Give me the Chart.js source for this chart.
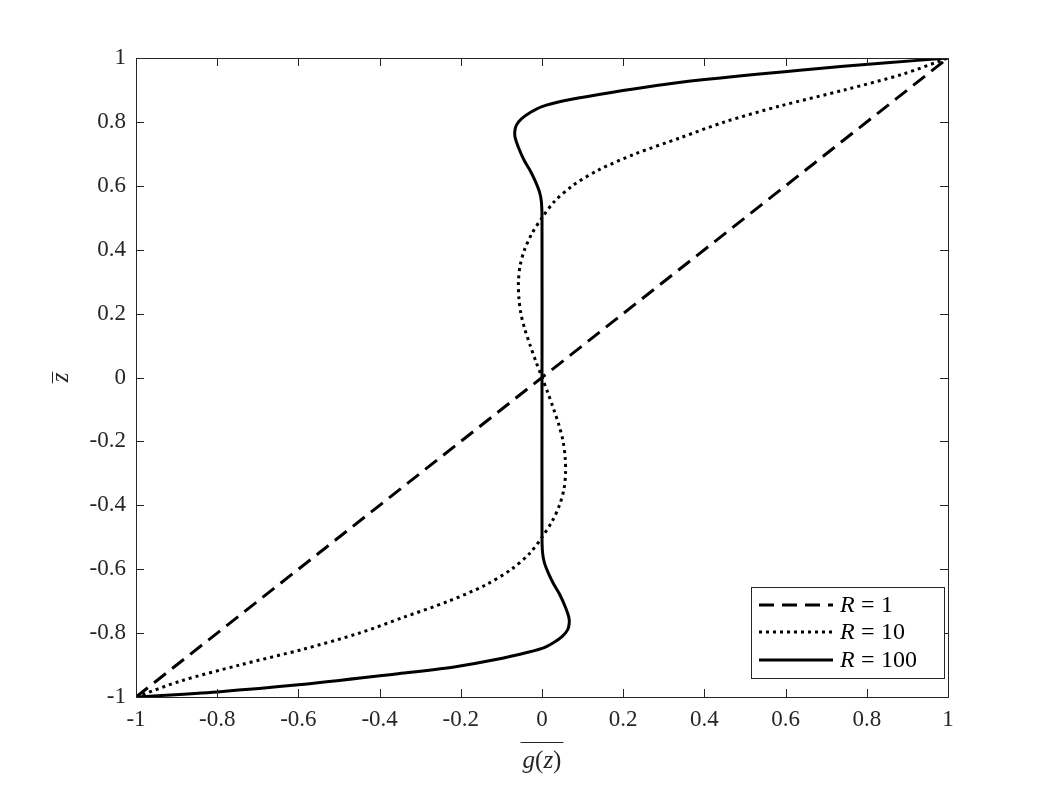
<!DOCTYPE html>
<html>
<head>
<meta charset="utf-8">
<script src="https://cdn.jsdelivr.net/npm/chart.js@4.4.1/dist/chart.umd.min.js"></script>
<style>
  html, body { margin: 0; padding: 0; background: #fff; }
</style>
</head>
<body>
<canvas id="profileChart" width="1046" height="785"></canvas>
<script>
// axis ticks, shared by both axes
const tickValues = [-1, -0.8, -0.6, -0.4, -0.2, 0, 0.2, 0.4, 0.6, 0.8, 1];

// R values for the legend
const seriesR = [1, 10, 100];

// R = 1 : straight line
const gR1 = [-1, 1];
const zR1 = [-1, 1];

// R = 10 : dotted
const gR10 = [-1, -0.89, -0.745, -0.587, -0.45, -0.34, -0.23, -0.14, -0.075, -0.03, 0,
  0.025, 0.043, 0.054, 0.058, 0.057, 0.052, 0.042, 0.029, 0.015, 0,
  -0.015, -0.029, -0.042, -0.052, -0.057, -0.058, -0.054, -0.043, -0.025, 0,
  0.03, 0.075, 0.14, 0.23, 0.34, 0.45, 0.587, 0.745, 0.89, 1];
const zR10 = [-1, -0.95, -0.9, -0.85, -0.8, -0.75, -0.7, -0.65, -0.6, -0.55, -0.5,
  -0.45, -0.4, -0.35, -0.3, -0.25, -0.2, -0.15, -0.1, -0.05, 0,
  0.05, 0.1, 0.15, 0.2, 0.25, 0.3, 0.35, 0.4, 0.45, 0.5,
  0.55, 0.6, 0.65, 0.7, 0.75, 0.8, 0.85, 0.9, 0.95, 1];

// R = 100 : solid
const gR100 = [-1, -0.8, -0.6, -0.36, -0.22, -0.14, -0.054, 0, 0.028, 0.05, 0.063, 0.067, 0.066,
  0.058, 0.044, 0.028, 0.016, 0.006, 0.0015, 0, 0, 0,
  -0.0015, -0.006, -0.016, -0.028, -0.044, -0.058, -0.066, -0.067, -0.063, -0.05, -0.028,
  0, 0.054, 0.14, 0.25, 0.389, 0.635, 0.85, 1];
const zR100 = [-1, -0.984, -0.962, -0.928, -0.907, -0.889, -0.866, -0.848, -0.83, -0.81, -0.79, -0.77, -0.75,
  -0.72, -0.68, -0.645, -0.613, -0.58, -0.55, -0.5, 0, 0.5,
  0.55, 0.58, 0.613, 0.645, 0.68, 0.72, 0.75, 0.77, 0.79, 0.81, 0.83,
  0.848, 0.866, 0.886, 0.908, 0.931, 0.962, 0.985, 1];

const ink = '#262626';
const serif = '"Liberation Serif", "DejaVu Serif", serif';

function toPoints(g, z) {
  return g.map((v, i) => ({ x: v, y: z[i] }));
}

function fmt(v) {
  return String(Math.round(v * 10) / 10);
}

// frame, inward ticks, overlined axis titles and the boxed legend
const matlabFrame = {
  id: 'matlabFrame',
  afterDraw(chart) {
    const ctx = chart.ctx;
    const a = chart.chartArea;
    const xs = chart.scales.x, ys = chart.scales.y;
    ctx.save();
    ctx.strokeStyle = ink;
    ctx.lineWidth = 1;
    ctx.strokeRect(Math.round(a.left) + 0.5, Math.round(a.top) + 0.5,
      Math.round(a.right - a.left), Math.round(a.bottom - a.top));
    const len = 8;
    ctx.beginPath();
    tickValues.forEach(v => {
      const px = Math.round(xs.getPixelForValue(v)) + 0.5;
      ctx.moveTo(px, a.bottom); ctx.lineTo(px, a.bottom - len);
      ctx.moveTo(px, a.top); ctx.lineTo(px, a.top + len);
      const py = Math.round(ys.getPixelForValue(v)) + 0.5;
      ctx.moveTo(a.left, py); ctx.lineTo(a.left + len, py);
      ctx.moveTo(a.right, py); ctx.lineTo(a.right - len, py);
    });
    ctx.stroke();

    // x title: overline g(z)
    ctx.fillStyle = ink;
    ctx.textBaseline = 'alphabetic';
    const parts = [['g', 'italic '], ['(', ''], ['z', 'italic '], [')', '']];
    let total = 0;
    parts.forEach(p => { ctx.font = p[1] + '25px ' + serif; total += ctx.measureText(p[0]).width; });
    let x0 = (a.left + a.right) / 2 - total / 2;
    const base = 768;
    parts.forEach(p => {
      ctx.font = p[1] + '25px ' + serif;
      ctx.fillText(p[0], x0, base);
      x0 += ctx.measureText(p[0]).width;
    });
    ctx.beginPath();
    const cx = (a.left + a.right) / 2;
    ctx.moveTo(cx - total / 2 - 2, 742.5);
    ctx.lineTo(cx + total / 2 + 2, 742.5);
    ctx.stroke();

    // y title: overline z, rotated
    ctx.save();
    ctx.translate(68, (a.top + a.bottom) / 2);
    ctx.rotate(-Math.PI / 2);
    ctx.font = 'italic 25px ' + serif;
    const zw = ctx.measureText('z').width;
    ctx.textAlign = 'center';
    ctx.fillText('z', 0, 0);
    ctx.beginPath();
    ctx.moveTo(-zw / 2 - 1, -15.5);
    ctx.lineTo(zw / 2 + 1, -15.5);
    ctx.stroke();
    ctx.restore();

    // legend
    const lx = 751.5, ly = 587.5, lw = 193, lh = 91;
    ctx.fillStyle = '#fff';
    ctx.fillRect(lx, ly, lw, lh);
    ctx.strokeStyle = ink;
    ctx.lineWidth = 1;
    ctx.strokeRect(lx, ly, lw, lh);
    const rows = [605, 632, 660];
    chart.data.datasets.forEach((ds, i) => {
      const y = rows[i];
      ctx.save();
      ctx.strokeStyle = ds.borderColor;
      ctx.lineWidth = ds.borderWidth;
      ctx.setLineDash(ds.borderDash || []);
      ctx.lineCap = 'butt';
      ctx.beginPath();
      ctx.moveTo(759, y);
      ctx.lineTo(833, y);
      ctx.stroke();
      ctx.restore();
      ctx.fillStyle = '#000';
      ctx.textAlign = 'left';
      ctx.textBaseline = 'middle';
      ctx.font = 'italic 24px ' + serif;
      ctx.fillText('R', 840, y + 1);
      ctx.font = '24px ' + serif;
      ctx.fillText('=', 861, y + 1);
      ctx.fillText(String(seriesR[i]), 881, y + 1);
    });
    ctx.restore();
  }
};

const tickFont = { family: serif, size: 23 };

new Chart(document.getElementById('profileChart').getContext('2d'), {
  type: 'scatter',
  data: {
    datasets: [{
      label: 'R = ' + seriesR[0],
      data: toPoints(gR1, zR1),
      showLine: true,
      borderColor: '#000',
      borderWidth: 3,
      borderDash: [15, 8]
    }, {
      label: 'R = ' + seriesR[1],
      data: toPoints(gR10, zR10),
      showLine: true,
      borderColor: '#000',
      borderWidth: 3,
      borderDash: [3, 4],
      tension: 0.3
    }, {
      label: 'R = ' + seriesR[2],
      data: toPoints(gR100, zR100),
      showLine: true,
      borderColor: '#000',
      borderWidth: 3,
      tension: 0.3
    }]
  },
  options: {
    responsive: false,
    animation: false,
    layout: { padding: { left: 0, top: 58, right: 98, bottom: 0 } },
    elements: { point: { radius: 0, hoverRadius: 0 } },
    plugins: { legend: { display: false }, tooltip: { enabled: false } },
    scales: {
      x: {
        type: 'linear', min: -1, max: 1,
        grid: { display: false, drawTicks: false },
        border: { display: false },
        afterBuildTicks: s => { s.ticks = tickValues.map(v => ({ value: v })); },
        afterFit: s => { s.height = 88; },
        ticks: { font: tickFont, color: ink, padding: 9, maxRotation: 0, autoSkip: false, callback: v => fmt(v) }
      },
      y: {
        type: 'linear', min: -1, max: 1,
        grid: { display: false, drawTicks: false },
        border: { display: false },
        afterBuildTicks: s => { s.ticks = tickValues.map(v => ({ value: v })); },
        afterFit: s => { s.width = 136; },
        ticks: { font: tickFont, color: ink, padding: 10, autoSkip: false, callback: v => fmt(v) }
      }
    }
  },
  plugins: [matlabFrame]
});
</script>
</body>
</html>
